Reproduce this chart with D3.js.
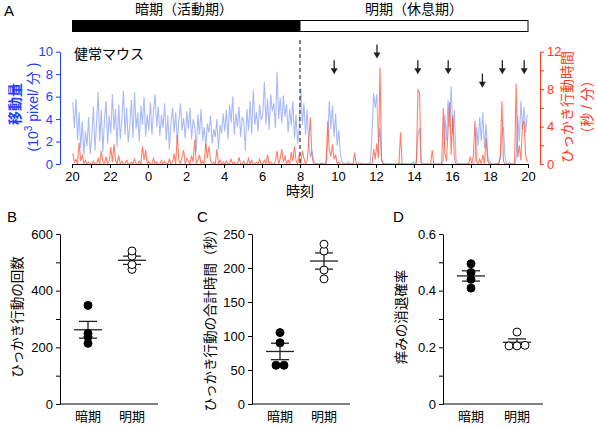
<!DOCTYPE html>
<html>
<head>
<meta charset="utf-8">
<script src="https://cdn.jsdelivr.net/npm/d3@7"></script>
<style>
  body { margin: 0; background: #fff; }
  svg { display: block; font-family: "Liberation Sans", "Noto Sans CJK JP", sans-serif; }
</style>
</head>
<body>
<div id="chart"></div>
<script>
// 5-min bins, 20:00 -> 8:00 (dark) and 8:00 -> 20:00 (light), one row per hour
const movementDark = [
  5.5, 3.2, 5.8, 2.1, 4.6, 1.4, 3.8, 0.8, 2.9, 1.6, 4.2, 0.9,   // 20
  2.4, 5.1, 1.2, 3.6, 6.4, 2.0, 4.8, 1.1, 3.9, 5.6, 1.8, 4.3,   // 21
  2.7, 6.2, 3.0, 4.9, 1.5, 5.3, 2.2, 4.1, 6.5, 2.6, 5.0, 1.9,   // 22
  3.4, 5.7, 2.3, 6.4, 3.1, 4.6, 2.0, 5.2, 3.5, 6.0, 2.4, 4.4,   // 23
  3.0, 5.5, 2.6, 4.8, 6.2, 3.3, 5.1, 2.5, 4.4, 3.2, 5.4, 2.1,   // 0
  4.3, 1.3, 3.6, 5.0, 2.8, 4.6, 1.9, 3.9, 5.4, 3.0, 4.1, 2.3,   // 1
  4.7, 3.1, 5.0, 2.2, 4.0, 3.4, 1.1, 4.4, 2.6, 4.9, 2.1, 3.3,   // 2
  1.5, 3.6, 2.8, 4.3, 1.8, 3.1, 2.4, 4.0, 1.3, 3.5, 2.7, 4.5,   // 3
  2.9, 4.8, 2.2, 5.3, 3.7, 6.0, 2.6, 4.5, 3.3, 5.1, 2.4, 4.2,   // 4
  3.8, 1.2, 4.9, 3.0, 5.6, 2.7, 6.6, 3.5, 4.6, 2.9, 5.3, 3.9,   // 5
  4.4, 7.3, 3.5, 5.8, 3.0, 6.2, 4.7, 5.4, 3.2, 8.2, 4.0, 5.9,   // 6
  3.6, 6.1, 4.2, 5.3, 2.8, 4.9, 3.4, 5.6, 2.3, 4.4, 1.8, 3.2    // 7
];
const movementLight = [
  6.8, 3.5, 5.4, 2.6, 4.8, 1.8, 0.6, 1.2, 0.3, 0.1, 0.0, 0.0,   // 8
  0.0, 0.1, 0.0, 0.0, 0.2, 2.0, 5.6, 3.1, 5.2, 2.4, 4.5, 1.6,   // 9
  3.0, 0.9, 0.2, 0.1, 0.0, 0.0, 0.2, 0.0, 0.0, 0.0, 0.0, 0.0,   // 10
  0.0, 0.0, 0.1, 0.0, 0.0, 0.0, 0.0, 0.0, 0.3, 2.8, 6.3, 5.0,   // 11
  6.2, 1.9, 3.2, 0.4, 0.0, 0.0, 0.0, 0.0, 0.0, 0.0, 0.0, 0.0,   // 12
  0.0, 0.0, 0.0, 0.1, 0.0, 0.0, 0.0, 0.0, 0.0, 0.0, 0.0, 0.2,   // 13
  0.0, 0.3, 2.6, 3.2, 0.2, 0.0, 0.0, 0.0, 0.0, 0.0, 0.0, 0.0,   // 14
  0.0, 0.0, 0.0, 0.0, 0.0, 0.0, 0.3, 4.4, 2.1, 5.7, 3.3, 6.9,   // 15
  2.6, 4.8, 0.5, 0.1, 0.0, 0.0, 0.0, 0.0, 0.0, 0.0, 0.0, 0.0,   // 16
  0.0, 0.0, 0.2, 3.3, 1.6, 4.2, 2.0, 4.6, 1.4, 3.6, 0.8, 0.2,   // 17
  0.0, 0.0, 0.0, 0.0, 0.0, 0.1, 0.4, 2.7, 3.3, 0.6, 0.0, 0.0,   // 18
  0.1, 0.0, 0.0, 0.0, 0.4, 4.3, 2.0, 5.6, 3.1, 5.1, 2.8, 4.4    // 19
];
const scratchDark = [
  1.1, 0.2, 0.5, 0.0, 2.3, 0.3, 1.0, 0.0, 0.4, 0.0, 0.2, 0.0,
  0.0, 0.3, 0.0, 0.0, 0.6, 0.0, 1.4, 0.2, 0.0, 0.8, 0.0, 0.3,
  1.8, 0.2, 2.1, 0.4, 0.0, 0.9, 0.0, 0.3, 0.0, 0.0, 0.4, 0.0,
  0.0, 0.2, 0.0, 0.5, 0.0, 0.0, 0.3, 0.0, 1.9, 0.4, 1.5, 0.0,
  0.3, 0.0, 0.0, 0.6, 0.0, 0.2, 0.0, 0.0, 0.4, 0.0, 0.3, 0.0,
  0.0, 0.5, 0.0, 0.2, 1.1, 0.0, 3.1, 0.4, 0.0, 0.8, 1.5, 0.0,
  0.6, 0.3, 0.0, 0.9, 0.2, 2.6, 0.0, 0.4, 1.0, 0.0, 0.3, 0.0,
  2.2, 0.6, 1.9, 0.3, 0.0, 0.2, 0.0, 1.6, 0.0, 0.4, 0.0, 0.2,
  0.0, 0.3, 0.0, 0.0, 0.5, 0.0, 0.2, 0.0, 0.0, 0.7, 0.0, 0.0,
  0.3, 0.0, 0.0, 0.6, 0.0, 0.4, 0.0, 0.0, 0.2, 0.0, 0.5, 0.0,
  0.0, 0.4, 0.0, 1.0, 0.0, 0.2, 0.0, 0.0, 0.3, 1.4, 0.0, 0.6,
  1.6, 0.2, 0.9, 0.0, 0.4, 0.0, 1.3, 0.3, 1.9, 0.4, 0.0, 1.0
];
const scratchLight = [
  0.0, 1.4, 0.6, 0.0, 0.3, 2.2, 5.0, 1.0, 0.0, 0.0, 0.0, 0.0,
  0.0, 0.0, 0.0, 0.0, 0.0, 4.6, 1.5, 0.8, 2.1, 0.5, 1.0, 0.0,
  0.2, 0.0, 0.0, 0.0, 0.0, 0.0, 0.0, 0.0, 0.0, 0.0, 1.2, 0.0,
  0.0, 0.0, 0.0, 0.0, 0.0, 0.0, 0.0, 0.0, 0.0, 0.0, 1.6, 0.5,
  2.2, 0.6, 10.3, 0.4, 0.0, 0.0, 0.0, 0.0, 0.0, 0.0, 0.0, 0.0,
  0.0, 0.0, 0.0, 3.4, 0.0, 0.0, 0.0, 0.0, 0.0, 0.0, 0.0, 0.0,
  0.0, 0.0, 7.9, 7.6, 0.0, 0.0, 0.0, 0.0, 0.0, 0.0, 0.0, 1.5,
  0.0, 0.0, 0.0, 0.0, 0.0, 0.0, 6.0, 1.2, 0.3, 3.6, 6.6, 1.0,
  5.2, 0.6, 0.0, 0.0, 0.0, 0.0, 0.0, 0.0, 0.0, 0.0, 0.0, 0.8,
  0.0, 0.9, 4.6, 0.3, 0.0, 0.5, 0.0, 1.0, 0.0, 2.8, 0.4, 0.0,
  0.0, 0.0, 0.0, 0.0, 0.0, 0.0, 0.9, 6.7, 0.3, 0.0, 0.0, 0.0,
  0.0, 0.0, 0.0, 0.0, 8.6, 0.7, 2.0, 0.4, 4.2, 4.6, 1.0, 0.2
];

// arrows marking scratching bouts in the light period (clock hour, tip on left axis)
const arrowHours = [9.8, 12.05, 14.2, 15.8, 17.6, 18.65, 19.8];
const arrowTips = [8.0, 9.4, 8.0, 8.0, 6.8, 8.0, 8.0];

const periods = ['暗期', '明期'];
const countDark = [348, 249, 237, 214];
const countLight = [540, 522, 492, 475];
const durationDark = [105, 90, 57, 57];
const durationLight = [235, 225, 197, 184];
const extinctionDark = [0.495, 0.464, 0.440, 0.409];
const extinctionLight = [0.254, 0.205, 0.207, 0.205];

const BLUE = '#1f3dff';
const RED = '#ff3a1a';

const svg = d3.select('#chart').append('svg')
    .attr('width', 598)
    .attr('height', 429);

// ---------- panel A ----------
const x = d3.scaleLinear().domain([0, 24]).range([72, 528]);
const yL = d3.scaleLinear().domain([0, 10]).range([164, 51.7]);
const yR = d3.scaleLinear().domain([0, 12]).range([164, 51.7]);

svg.append('text').attr('x', 4).attr('y', 16)
    .style('font-size', '15px').text('A');

// light/dark bars
svg.append('rect').attr('x', x(0)).attr('y', 20).attr('width', x(12) - x(0)).attr('height', 12)
    .attr('fill', '#000');
svg.append('rect').attr('x', x(12)).attr('y', 20.5).attr('width', x(24) - x(12)).attr('height', 11)
    .attr('fill', '#fff').attr('stroke', '#000').attr('stroke-width', 1);
svg.append('text').attr('x', x(6) - 2).attr('y', 14).attr('text-anchor', 'middle')
    .style('font-size', '14px').text('暗期（活動期）');
svg.append('text').attr('x', x(18)).attr('y', 14).attr('text-anchor', 'middle')
    .style('font-size', '14px').text('明期（休息期）');

const movement = movementDark.concat(movementLight);
const scratch = scratchDark.concat(scratchLight);
const tOf = (i) => (i * 5 + 2.5) / 60;

svg.append('path')
    .datum(movement)
    .attr('fill', 'none')
    .attr('stroke', '#5576f2')
    .attr('stroke-opacity', 0.5)
    .attr('stroke-width', 1.1)
    .attr('d', d3.line().x((d, i) => x(tOf(i))).y((d) => yL(d)));

svg.append('path')
    .datum(scratch)
    .attr('fill', 'none')
    .attr('stroke', '#ff4a2a')
    .attr('stroke-opacity', 0.7)
    .attr('stroke-width', 1.1)
    .attr('d', d3.line().x((d, i) => x(tOf(i))).y((d) => yR(d)));

// lights-on divider
svg.append('line')
    .attr('x1', x(12)).attr('x2', x(12))
    .attr('y1', 40).attr('y2', 164)
    .attr('stroke', '#333').attr('stroke-width', 1.2)
    .attr('stroke-dasharray', '4,3');

// axes
const xAxis = svg.append('g')
    .attr('transform', 'translate(0,164)')
    .call(d3.axisBottom(x)
        .tickValues(d3.range(0, 25))
        .tickSize(4)
        .tickSizeOuter(0)
        .tickFormat((h) => h % 2 ? '' : (h + 20) % 24));
xAxis.selectAll('text').style('font-size', '13px').attr('dy', '0.78em');

const leftAxis = svg.append('g')
    .attr('transform', 'translate(60,0)')
    .call(d3.axisLeft(yL).tickValues([0, 2, 4, 6, 8, 10]).tickSize(4).tickSizeOuter(0));
leftAxis.selectAll('path, line').attr('stroke', BLUE);
leftAxis.selectAll('text').attr('fill', BLUE).style('font-size', '13px');

const rightAxis = svg.append('g')
    .attr('transform', 'translate(540,0)')
    .call(d3.axisRight(yR).tickValues(d3.range(0, 13, 2)).tickSize(4).tickSizeOuter(0)
        .tickFormat((d) => d % 4 ? '' : d));
rightAxis.selectAll('path, line').attr('stroke', RED);
rightAxis.selectAll('text').attr('fill', RED).style('font-size', '13px');

svg.append('text').attr('x', x(12)).attr('y', 196).attr('text-anchor', 'middle')
    .style('font-size', '14px').text('時刻');

svg.append('text').attr('x', 74).attr('y', 59)
    .style('font-size', '14px').text('健常マウス');

// axis titles
svg.append('text')
    .attr('transform', 'translate(20,104) rotate(-90)')
    .attr('text-anchor', 'middle').attr('fill', BLUE)
    .style('font-size', '14px').style('font-weight', 'bold')
    .text('移動量');
const unitL = svg.append('text')
    .attr('transform', 'translate(38,107) rotate(-90)')
    .attr('text-anchor', 'middle').attr('fill', BLUE)
    .style('font-size', '14px');
unitL.append('tspan').text('(10');
unitL.append('tspan').attr('dy', -6).style('font-size', '10px').text('3');
unitL.append('tspan').attr('dy', 6).text(' pixel/ 分 )');

svg.append('text')
    .attr('transform', 'translate(572,107) rotate(-90)')
    .attr('text-anchor', 'middle').attr('fill', RED)
    .style('font-size', '14px')
    .text('ひっかき行動時間');
svg.append('text')
    .attr('transform', 'translate(592,107) rotate(-90)')
    .attr('text-anchor', 'middle').attr('fill', RED)
    .style('font-size', '14px')
    .text('（秒 / 分）');

// arrows
const arrows = svg.append('g').attr('fill', '#222').attr('stroke', '#222');
arrowHours.forEach((h, i) => {
  const ax = x((h + 4) % 24);
  const tip = yL(arrowTips[i]);
  arrows.append('line')
      .attr('x1', ax).attr('x2', ax)
      .attr('y1', tip - 14).attr('y2', tip - 4)
      .attr('stroke-width', 1.3);
  arrows.append('path')
      .attr('stroke', 'none')
      .attr('d', `M${ax - 3.5},${tip - 6}L${ax + 3.5},${tip - 6}L${ax},${tip}Z`);
});

// ---------- panels B-D ----------
function dotPanel(opts) {
  const { left, right, label, labelX, domain, ticks, labeled, title, titleX, dark, light, fmt } = opts;
  const y = d3.scaleLinear().domain(domain).range([404, 234]);
  const xc = d3.scalePoint().domain(periods).range([left + 28, right - 26]);
  const r = 4;

  svg.append('text').attr('x', labelX).attr('y', 222)
      .style('font-size', '15px').text(label);

  const ax = svg.append('g')
      .attr('transform', `translate(${left},0)`)
      .call(d3.axisLeft(y).tickValues(ticks).tickSize(4).tickSizeOuter(0)
          .tickFormat((d) => labeled(d) ? fmt(d) : ''));
  ax.selectAll('text').style('font-size', '13px');

  svg.append('line')
      .attr('x1', left).attr('x2', right)
      .attr('y1', 404).attr('y2', 404)
      .attr('stroke', '#000');

  periods.forEach((p) => {
    svg.append('text').attr('x', xc(p)).attr('y', 421).attr('text-anchor', 'middle')
        .style('font-size', '13px').text(p);
  });

  svg.append('text')
      .attr('transform', `translate(${titleX},${(234 + 404) / 2 - 2}) rotate(-90)`)
      .attr('text-anchor', 'middle')
      .style('font-size', '13.5px')
      .text(title);

  [[dark, periods[0], true], [light, periods[1], false]].forEach(([vals, p, filled]) => {
    const cx = xc(p);
    const m = d3.mean(vals);
    const sem = d3.deviation(vals) / Math.sqrt(vals.length);
    const g = svg.append('g').attr('stroke', '#222').attr('stroke-width', 1.3);
    g.append('line').attr('x1', cx - 14).attr('x2', cx + 14).attr('y1', y(m)).attr('y2', y(m));
    g.append('line').attr('x1', cx - 9).attr('x2', cx + 9).attr('y1', y(m + sem)).attr('y2', y(m + sem));
    g.append('line').attr('x1', cx - 9).attr('x2', cx + 9).attr('y1', y(m - sem)).attr('y2', y(m - sem));
    g.append('line').attr('x1', cx).attr('x2', cx).attr('y1', y(m + sem)).attr('y2', y(m - sem));

    // spread coincident points sideways
    const sorted = vals.slice().sort((a, b) => a - b);
    const groups = [];
    sorted.forEach((v) => {
      const last = groups[groups.length - 1];
      if (last && Math.abs(y(last[0]) - y(v)) < 1.5) last.push(v);
      else groups.push([v]);
    });
    const pts = [];
    groups.forEach((grp) => grp.forEach((v, k) => pts.push({ v, dx: (k - (grp.length - 1) / 2) * 2 * r })));

    svg.append('g').selectAll('circle')
        .data(pts)
        .join('circle')
        .attr('cx', (d) => cx + d.dx)
        .attr('cy', (d) => y(d.v))
        .attr('r', r)
        .attr('fill', filled ? '#000' : '#fff')
        .attr('stroke', '#000')
        .attr('stroke-width', 1);
  });
}

dotPanel({
  left: 60, right: 158, label: 'B', labelX: 7,
  domain: [0, 600], ticks: d3.range(0, 601, 100), labeled: (d) => d % 200 === 0,
  fmt: (d) => d, title: 'ひっかき行動の回数', titleX: 22,
  dark: countDark, light: countLight
});
dotPanel({
  left: 252, right: 350, label: 'C', labelX: 197,
  domain: [0, 250], ticks: d3.range(0, 251, 50), labeled: () => true,
  fmt: (d) => d, title: 'ひっかき行動の合計時間（秒）', titleX: 215,
  dark: durationDark, light: durationLight
});
dotPanel({
  left: 443, right: 543, label: 'D', labelX: 393,
  domain: [0, 0.6], ticks: d3.range(0, 7).map((d) => d / 10), labeled: (d) => Math.round(d * 10) % 2 === 0,
  fmt: (d) => d === 0 ? '0' : d3.format('.1f')(d), title: '痒みの消退確率', titleX: 406,
  dark: extinctionDark, light: extinctionLight
});
</script>
</body>
</html>
